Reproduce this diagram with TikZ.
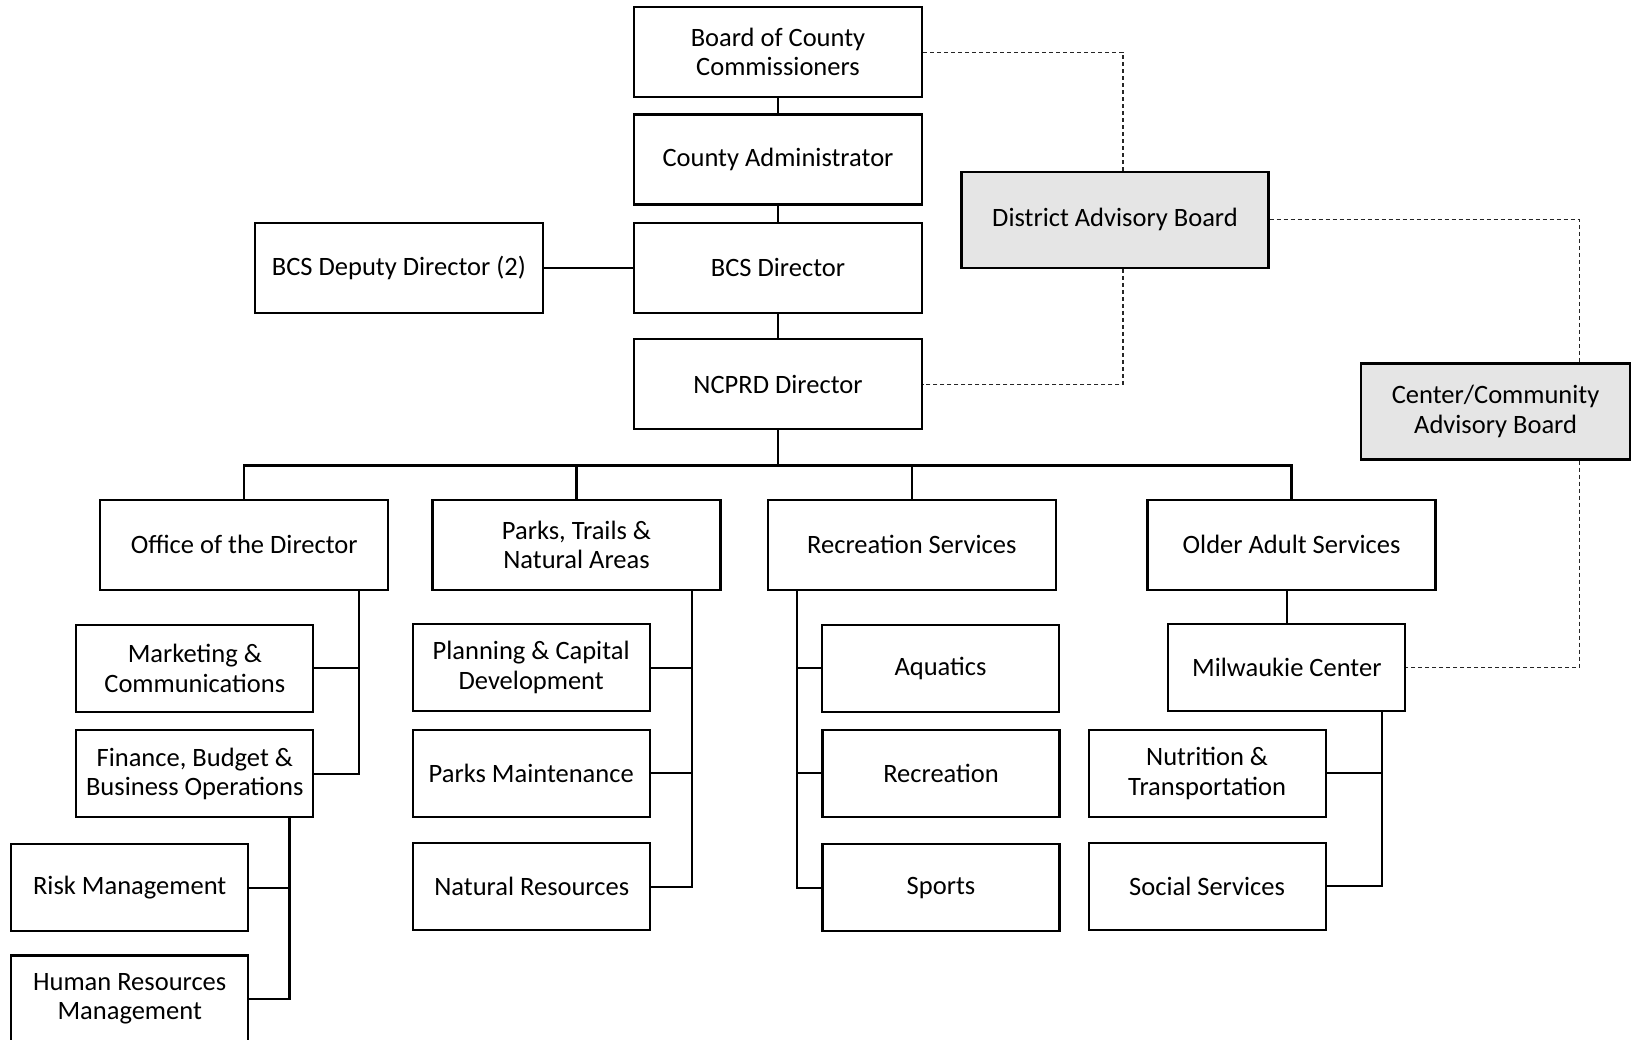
\documentclass[tikz,border=0pt]{standalone}
\usepackage{fontspec}
\setmainfont{Carlito}
\usepackage{xcolor}
\usepackage{tikz}
\usetikzlibrary{positioning, calc}

\begin{document}
\begin{tikzpicture}[
    x=1pt, y=-1pt,
    org box/.style={rectangle, draw=black, fill=white, line width=2.2pt, minimum width=288pt, minimum height=90pt, inner sep=2pt, align=center, font=\fontsize{26.5}{29.5}\selectfont},
    sub box/.style={org box, minimum width=237pt, minimum height=87pt},
    adv box/.style={org box, fill=gray!20, minimum height=96pt},
    org edge/.style={line width=2.2pt, draw=black},
    adv edge/.style={line width=1.2pt, draw=black!85, dash pattern=on 4pt off 3pt}
]
    \path[fill=white, use as bounding box] (0,0) rectangle (1633,1039);

    % Linea de mando
    \node[org box] (board)  at (778, 52.1)  {Board of County\\Commissioners};
    \node[org box] (cadmin) at (778, 159.4) {County Administrator};
    \node[org box] (bcs)    at (778, 267.7) {BCS Director};
    \node[org box] (ncprd)  at (778, 384.3) {NCPRD Director};
    \node[org box] (deputy) at (398.9, 267.7) {BCS Deputy Director (2)};

    % Juntas asesoras
    \node[adv box, minimum width=307pt] (dab) at (1115, 219.8)  {District Advisory Board};
    \node[adv box, minimum width=269pt] (cab) at (1495.6, 411.4) {Center/Community\\Advisory Board};

    % Divisiones
    \node[org box] (office) at (244.2, 544.7)  {Office of the Director};
    \node[org box] (parks)  at (576.5, 544.7)  {Parks, Trails \&\\Natural Areas};
    \node[org box] (rec)    at (911.8, 544.7)  {Recreation Services};
    \node[org box] (older)  at (1291.5, 544.7) {Older Adult Services};

    % Oficina del director
    \node[sub box] (mkt)  at (194.8, 668.2) {Marketing \&\\Communications};
    \node[sub box] (fin)  at (194.8, 773.8) {Finance, Budget \&\\Business Operations};
    \node[sub box] (risk) at (129.7, 887.8) {Risk Management};
    \node[sub box] (hr)   at (129.7, 999)   {Human Resources\\Management};

    % Parques
    \node[sub box] (plan)   at (531.2, 667.6) {Planning \& Capital\\Development};
    \node[sub box] (pmaint) at (531.2, 773.3) {Parks Maintenance};
    \node[sub box] (natres) at (531.7, 886.8) {Natural Resources};

    % Recreacion
    \node[sub box] (aqua)   at (940.5, 668.1) {Aquatics};
    \node[sub box] (recr)   at (941, 773.3)   {Recreation};
    \node[sub box] (sports) at (941, 887.8)   {Sports};

    % Adultos mayores
    \node[sub box] (milw)   at (1286.8, 667.1) {Milwaukie Center};
    \node[sub box] (nutr)   at (1207.1, 773.3) {Nutrition \&\\Transportation};
    \node[sub box] (social) at (1207.1, 886.3) {Social Services};

    % Puntos de las ramas
    \coordinate (bus)    at (778, 465.5);
    \coordinate (ospine) at (359.3, 589.5);
    \coordinate (fspine) at (289.5, 817.6);
    \coordinate (pspine) at (691.6, 589.5);
    \coordinate (rspine) at (796.7, 589.5);
    \coordinate (mspine) at (1382, 710.3);

    % Aristas
    \draw[org edge] (board) -- (cadmin);
    \draw[org edge] (cadmin) -- (bcs);
    \draw[org edge] (bcs) -- (ncprd);
    \draw[org edge] (deputy) -- (bcs);
    \draw[org edge] (ncprd.south) -- (bus);
    \draw[org edge] (office.north) |- (bus) -| (older.north);
    \draw[org edge] (parks.north) -- (parks.north |- bus);
    \draw[org edge] (rec.north) -- (rec.north |- bus);

    \draw[org edge] (ospine) |- (fin.east);
    \draw[org edge] (mkt.east) -- (mkt.east -| ospine);
    \draw[org edge] (fspine) |- (hr.east);
    \draw[org edge] (risk.east) -- (risk.east -| fspine);

    \draw[org edge] (pspine) |- (natres.east);
    \draw[org edge] (plan.east) -- (plan.east -| pspine);
    \draw[org edge] (pmaint.east) -- (pmaint.east -| pspine);

    \draw[org edge] (rspine) |- (sports.west);
    \draw[org edge] (aqua.west) -- (aqua.west -| rspine);
    \draw[org edge] (recr.west) -- (recr.west -| rspine);

    \draw[org edge] (older.south -| milw.north) -- (milw.north);
    \draw[org edge] (mspine) |- (social.east);
    \draw[org edge] (nutr.east) -- (nutr.east -| mspine);

    % Relaciones asesoras
    \draw[adv edge] (board.east) -| ([xshift=8pt]dab.north);
    \draw[adv edge] ([xshift=8pt]dab.south) |- (ncprd.east);
    \draw[adv edge] (dab.east) -| ([xshift=84pt]cab.north);
    \draw[adv edge] ([xshift=84pt]cab.south) |- (milw.east);
\end{tikzpicture}
\end{document}
